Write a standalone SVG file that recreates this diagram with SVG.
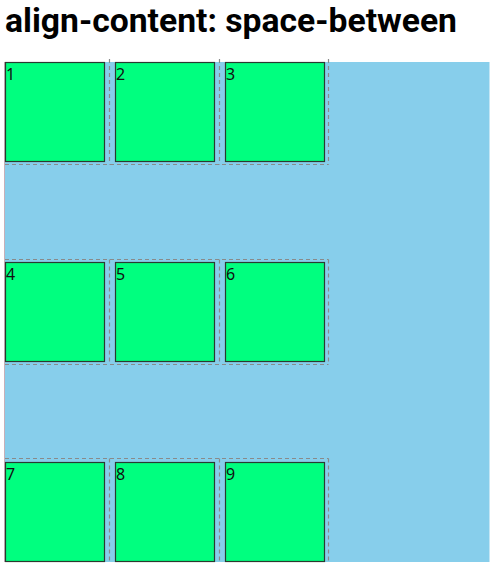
<svg xmlns="http://www.w3.org/2000/svg" width="503" height="575" viewBox="0 0 503 575">
<style>
.box{fill:#00ff7f;stroke:#2a3a30;stroke-width:1.2}
.lbl{font-family:"Noto Sans","DejaVu Sans",sans-serif;font-size:16px;fill:#111}
.dash{stroke:#8a8a8a;stroke-width:1.2;stroke-dasharray:4 3;fill:none}
.title{font-family:Roboto,"Noto Sans",sans-serif;font-weight:700;font-size:34px;fill:#000}
</style>
<rect width="503" height="575" fill="#fff"/>
<text class="title" x="5" y="32" textLength="452" lengthAdjust="spacingAndGlyphs">align-content: space-between</text>
<rect id="container" x="5" y="62" width="484.5" height="500" fill="#87ceeb"/>
<g id="guides">
<line class="dash" x1="5" y1="164.5" x2="328.5" y2="164.5"/>
<line class="dash" x1="5" y1="259.5" x2="328.5" y2="259.5"/>
<line class="dash" x1="5" y1="364.5" x2="328.5" y2="364.5"/>
<line class="dash" x1="5" y1="458.5" x2="328.5" y2="458.5"/>
<line class="dash" x1="109.5" y1="59" x2="109.5" y2="164.5"/>
<line class="dash" x1="219.5" y1="59" x2="219.5" y2="164.5"/>
<line class="dash" x1="328.5" y1="59" x2="328.5" y2="164.5"/>
<line class="dash" x1="109.5" y1="259.5" x2="109.5" y2="364.5"/>
<line class="dash" x1="219.5" y1="259.5" x2="219.5" y2="364.5"/>
<line class="dash" x1="328.5" y1="259.5" x2="328.5" y2="364.5"/>
<line class="dash" x1="109.5" y1="458.5" x2="109.5" y2="563"/>
<line class="dash" x1="219.5" y1="458.5" x2="219.5" y2="563"/>
<line class="dash" x1="328.5" y1="458.5" x2="328.5" y2="563"/>
<line x1="4.5" y1="62" x2="4.5" y2="562" stroke="#c8b0b8" stroke-width="1"/>
</g>
<g id="n1"><rect class="box" x="5.5" y="62.5" width="99" height="99"/><text class="lbl" x="6" y="80">1</text></g>
<g id="n2"><rect class="box" x="115.5" y="62.5" width="99" height="99"/><text class="lbl" x="116" y="80">2</text></g>
<g id="n3"><rect class="box" x="225.5" y="62.5" width="99" height="99"/><text class="lbl" x="226" y="80">3</text></g>
<g id="n4"><rect class="box" x="5.5" y="262.5" width="99" height="99"/><text class="lbl" x="6" y="280">4</text></g>
<g id="n5"><rect class="box" x="115.5" y="262.5" width="99" height="99"/><text class="lbl" x="116" y="280">5</text></g>
<g id="n6"><rect class="box" x="225.5" y="262.5" width="99" height="99"/><text class="lbl" x="226" y="280">6</text></g>
<g id="n7"><rect class="box" x="5.5" y="462.5" width="99" height="99"/><text class="lbl" x="6" y="480">7</text></g>
<g id="n8"><rect class="box" x="115.5" y="462.5" width="99" height="99"/><text class="lbl" x="116" y="480">8</text></g>
<g id="n9"><rect class="box" x="225.5" y="462.5" width="99" height="99"/><text class="lbl" x="226" y="480">9</text></g>
</svg>
